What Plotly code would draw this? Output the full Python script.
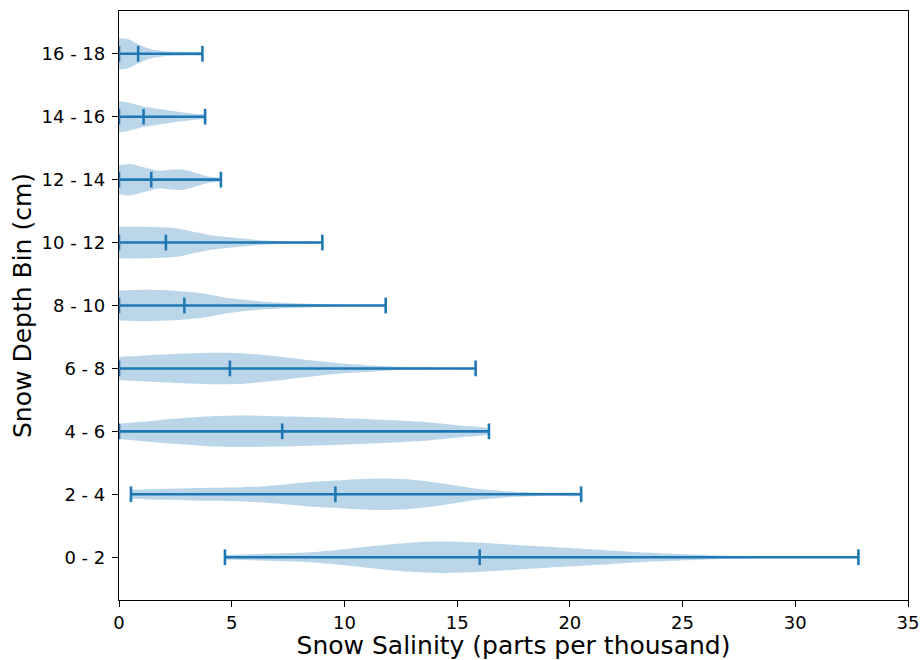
import plotly.graph_objects as go

# ---- data ----
bin_labels = ["0 - 2", "2 - 4", "4 - 6", "6 - 8", "8 - 10",
              "10 - 12", "12 - 14", "14 - 16", "16 - 18"]
positions = [1, 2, 3, 4, 5, 6, 7, 8, 9]

sal_min = [4.7, 0.53, 0.0, 0.0, 0.0, 0.0, 0.0, 0.0, 0.0]
sal_max = [32.8, 20.5, 16.41, 15.82, 11.83, 9.02, 4.52, 3.82, 3.7]
sal_median = [16.0, 9.6, 7.24, 4.92, 2.9, 2.08, 1.43, 1.09, 0.85]

# density profiles (salinity, relative density) for each bin
prof_x_0_2 = [4.7, 6.5, 8.5, 10, 11.5, 12.8, 14.1, 15.9, 17.3, 18.8, 20.9, 22.5, 24, 25.5, 27, 29, 31, 32.8]
prof_d_0_2 = [2.3, 3.5, 5, 8, 11.7, 14.3, 15.7, 14.7, 12.8, 10.7, 8.0, 5.7, 4, 2.7, 1.5, 0.9, 0.6, 0.4]
prof_x_2_4 = [0.53, 2, 3.5, 5.5, 7, 8.5, 10, 11.5, 12.9, 14.4, 15.9, 17.4, 19, 20.5]
prof_d_2_4 = [4.5, 5.5, 6.3, 7, 9, 12, 14, 15.5, 14.5, 10.5, 5.5, 2.8, 1.5, 1.0]
prof_x_4_6 = [0, 1, 1.86, 3, 4.1, 5.5, 7, 8.5, 10, 11.5, 12.6, 13.7, 15.1, 16.41]
prof_d_4_6 = [7.5, 9.5, 11.3, 13.3, 14.8, 15.5, 15, 14.2, 13, 11.7, 10.5, 9, 5.8, 2.3]
prof_x_6_8 = [0, 1, 1.86, 3, 4.1, 5.5, 7, 8.5, 10, 11.5, 12.9, 14.5, 15.82]
prof_d_6_8 = [11.3, 12.6, 13.7, 14.8, 15.5, 15, 12, 8, 4.7, 2.7, 1.4, 0.8, 0.4]
prof_x_8_10 = [0, 1.1, 2.6, 3.8, 4.8, 6.3, 8.5, 10, 11.83]
prof_d_8_10 = [14.5, 15.3, 14.2, 11.5, 7.5, 4, 1.7, 0.8, 0.4]
prof_x_10_12 = [0, 1.1, 2.6, 3.3, 4.1, 4.8, 6.3, 7.5, 9.02]
prof_d_10_12 = [15.3, 15.3, 13.7, 10.5, 7.1, 5.3, 2.2, 1.1, 0.5]
prof_x_12_14 = [0, 0.5, 1.1, 1.7, 2.3, 2.75, 3.3, 3.9, 4.52]
prof_d_12_14 = [14.5, 15.7, 12.3, 9, 9.8, 10.3, 7.5, 3.5, 1.3]
prof_x_14_16 = [0, 0.53, 1.1, 1.86, 2.6, 3.5, 3.82]
prof_d_14_16 = [15.5, 13.3, 10, 7.3, 5, 2.7, 2.0]
prof_x_16_18 = [0, 0.4, 0.83, 1.4, 2.0, 2.6, 3.2, 3.7]
prof_d_16_18 = [15.7, 14.7, 9.7, 4.7, 2.5, 2.0, 1.8, 1.5]

profiles_x = [prof_x_0_2, prof_x_2_4, prof_x_4_6, prof_x_6_8, prof_x_8_10,
              prof_x_10_12, prof_x_12_14, prof_x_14_16, prof_x_16_18]
profiles_d = [prof_d_0_2, prof_d_2_4, prof_d_4_6, prof_d_6_8, prof_d_8_10,
              prof_d_10_12, prof_d_12_14, prof_d_14_16, prof_d_16_18]

x_ticks = [0, 5, 10, 15, 20, 25, 30, 35]

# ---- styling ----
BLUE = "#1f77b4"
FILL = "rgba(31,119,180,0.3)"
HALF_WIDTH = 0.25   # max half-width of a violin body
CAP = 0.125         # half-length of the cap / median ticks
FONT = "DejaVu Sans"

fig = go.Figure()

for pos, px_, pd_ in zip(positions, profiles_x, profiles_d):
    dmax = max(pd_)
    upper = [pos + HALF_WIDTH * d / dmax for d in pd_]
    lower = [pos - HALF_WIDTH * d / dmax for d in pd_]
    xs = list(px_) + list(px_[::-1])
    ys = upper + lower[::-1]
    fig.add_trace(go.Scatter(
        x=xs, y=ys, mode="lines", fill="toself", fillcolor=FILL,
        line=dict(width=0, shape="spline", smoothing=0.8, color=FILL),
        hoverinfo="skip", showlegend=False))

# bars, caps and medians
lx, ly = [], []
for pos, lo, hi, med in zip(positions, sal_min, sal_max, sal_median):
    lx += [lo, hi, None]
    ly += [pos, pos, None]
    for v in (lo, hi, med):
        lx += [v, v, None]
        ly += [pos - CAP, pos + CAP, None]
fig.add_trace(go.Scatter(x=lx, y=ly, mode="lines",
                         line=dict(color=BLUE, width=2.6),
                         hoverinfo="skip", showlegend=False))

fig.update_layout(
    width=920, height=660,
    margin=dict(l=119, r=12, t=11, b=60),
    paper_bgcolor="white", plot_bgcolor="white",
    font=dict(family=FONT, color="black"),
    showlegend=False,
)
fig.update_xaxes(
    range=[0, 35], tickvals=x_ticks, ticktext=[str(t) for t in x_ticks],
    automargin=False,
    showgrid=False, zeroline=False,
    showline=True, linecolor="black", linewidth=1.3, mirror=True,
    ticks="outside", ticklen=6, tickwidth=1.3, tickcolor="black",
    tickfont=dict(size=18, family=FONT),
    title=dict(text="Snow Salinity (parts per thousand)",
               font=dict(size=25, family=FONT), standoff=8),
)
fig.update_yaxes(
    range=[0.32, 9.68], tickvals=positions, ticktext=bin_labels,
    automargin=False,
    showgrid=False, zeroline=False,
    showline=True, linecolor="black", linewidth=1.3, mirror=True,
    ticks="outside", ticklen=6, tickwidth=1.3, tickcolor="black",
    tickfont=dict(size=18, family=FONT), ticklabelstandoff=3,
    title=dict(text="Snow Depth Bin (cm)",
               font=dict(size=25, family=FONT), standoff=2),
)

fig.write_html("out.html")
